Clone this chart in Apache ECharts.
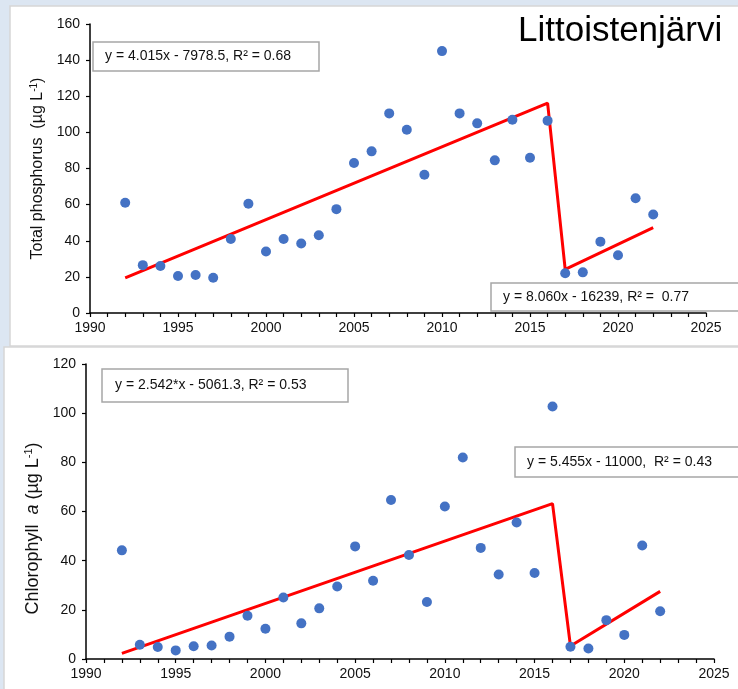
<!DOCTYPE html>
<html><head><meta charset="utf-8">
<script src="https://cdn.jsdelivr.net/npm/echarts@6/dist/echarts.min.js"></script>
<style>html,body{margin:0;padding:0;background:#dce6f2}#c{width:738px;height:689px}</style>
</head><body><div id="c"></div>
<script>
const years = [1992,1993,1994,1995,1996,1997,1998,1999,2000,2001,2002,2003,2004,2005,2006,2007,2008,2009,2010,2011,2012,2013,2014,2015,2016,2017,2018,2019,2020,2021,2022];
const totalPhosphorus = [61,26.5,26,20.5,21,19.5,41,60.5,34,41,38.5,43,57.5,83,89.5,110.5,101.5,76.5,145,110.5,105,84.5,107,86,106.5,22,22.5,39.5,32,63.5,54.5];
const chlorophyllA = [44.2,5.8,4.9,3.5,5.2,5.5,9.1,17.6,12.3,25,14.5,20.6,29.5,45.8,31.8,64.7,42.3,23.2,62,82,45.2,34.4,55.5,35,102.7,5,4.3,15.8,9.8,46.2,19.4];
const tpTrendYears = [1992,2016,2017,2022];
const tpTrendValues = [19.4,116.2,24.2,47.3];
const chlTrendYears = [1992,2016,2017,2022];
const chlTrendValues = [2.3,63.2,5.3,27.5];
const xTickLabels = [1990,1995,2000,2005,2010,2015,2020,2025];
const titleText = 'Littoistenjärvi';
const tpEq1 = 'y = 4.015x - 7978.5, R² = 0.68';
const tpEq2 = 'y = 8.060x - 16239, R² =  0.77';
const chlEq1 = 'y = 2.542*x - 5061.3, R² = 0.53';
const chlEq2 = 'y = 5.455x - 11000,  R² = 0.43';

const FF = '"Liberation Sans", Arial, sans-serif';
const pairs = (xs, ys) => xs.map((x,i)=>[x, ys[i]]);

function xAxis(g){
  return {type:'value', gridIndex:g, min:1990, max:2025, interval:1,
    axisLine:{show:true, onZero:false, lineStyle:{color:'#000', width:1.5}},
    axisTick:{show:true, length:4, lineStyle:{color:'#000', width:1.2}},
    axisLabel:{formatter:v=> xTickLabels.includes(v)? String(v):'', fontSize:14, color:'#111', margin:8, fontFamily:FF},
    splitLine:{show:false}};
}
function yAxis(g, max, name, rich, gap, pad){
  return {type:'value', gridIndex:g, min:0, max:max, interval:20,
    axisLine:{show:true, lineStyle:{color:'#000', width:1.5}},
    axisTick:{show:true, length:4, lineStyle:{color:'#000', width:1.2}},
    axisLabel:{fontSize:14, color:'#111', margin:10, fontFamily:FF},
    splitLine:{show:false},
    name:name, nameLocation:'middle', nameGap:gap,
    nameTextStyle:{rich:rich, padding:pad}};
}
const richTP = {n:{fontSize:16, fontFamily:FF, color:'#111'}, s:{fontSize:10, fontFamily:FF, color:'#111', verticalAlign:'top'}};
const richChl = {n:{fontSize:18, fontFamily:FF, color:'#111'}, i:{fontSize:18, fontFamily:FF, fontStyle:'italic', color:'#111'}, s:{fontSize:11, fontFamily:FF, color:'#111', verticalAlign:'top'}};

function box(x,y,w,h,tx,text){
  return [
    {type:'rect', z:100, shape:{x:x,y:y,width:w,height:h}, style:{fill:'#fff', stroke:'#a6a6a6', lineWidth:1.5}},
    {type:'text', z:101, x:tx, y:y+h/2, style:{text:text, fontSize:14, fontFamily:FF, fill:'#111', verticalAlign:'middle'}}
  ];
}

const chart = echarts.init(document.getElementById('c'));
chart.setOption({
  animation:false,
  backgroundColor:'#dce6f2',
  title:{text:titleText, left:513, top:9, textStyle:{fontSize:35, fontWeight:'normal', color:'#000', fontFamily:FF}},
  grid:[{left:90, top:24, width:616, height:289},{left:86, top:364, width:628, height:295}],
  xAxis:[xAxis(0), xAxis(1)],
  yAxis:[
    yAxis(0,160,'{n|Total phosphorus  (µg L}{s|-1}{n|)}', richTP, 39, [0,0,0,0]),
    yAxis(1,120,'{n|Chlorophyll  }{i|a}{n| (µg L}{s|-1}{n|)}', richChl, 37, [0,34,0,0])
  ],
  graphic:{elements:[
    {type:'rect', z:-100, shape:{x:10,y:6,width:740,height:340}, style:{fill:'#fff', stroke:'#d6d6d6', lineWidth:1.5}},
    {type:'rect', z:-100, shape:{x:4,y:347,width:740,height:350}, style:{fill:'#fff', stroke:'#d6d6d6', lineWidth:1.5}},
    ...box(93,42,226,29,105,tpEq1),
    ...box(491,283,260,28,503,tpEq2),
    ...box(102,369,246,33,115,chlEq1),
    ...box(515,447,240,30,527,chlEq2)
  ]},
  series:[
    {type:'line', xAxisIndex:0, yAxisIndex:0, data:pairs(tpTrendYears,tpTrendValues), symbol:'none', lineStyle:{color:'#ff0000', width:3}, z:2},
    {type:'scatter', xAxisIndex:0, yAxisIndex:0, data:pairs(years,totalPhosphorus), symbolSize:10, itemStyle:{color:'#4472c4', opacity:1}, z:3},
    {type:'line', xAxisIndex:1, yAxisIndex:1, data:pairs(chlTrendYears,chlTrendValues), symbol:'none', lineStyle:{color:'#ff0000', width:3}, z:2},
    {type:'scatter', xAxisIndex:1, yAxisIndex:1, data:pairs(years,chlorophyllA), symbolSize:10, itemStyle:{color:'#4472c4', opacity:1}, z:3}
  ]
});
</script></body></html>
